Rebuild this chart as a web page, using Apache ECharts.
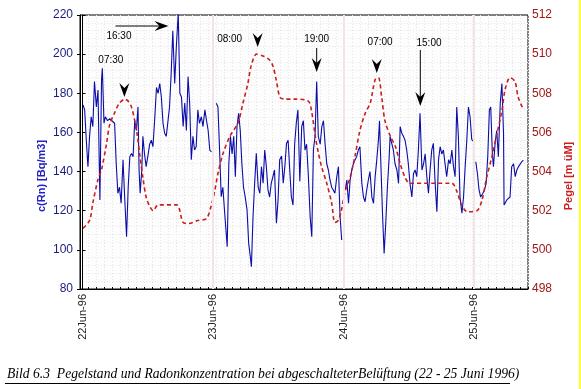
<!DOCTYPE html>
<html><head><meta charset="utf-8">
<script src="https://cdn.jsdelivr.net/npm/echarts@6/dist/echarts.min.js"></script>
<style>html,body{margin:0;padding:0;background:#fff}#c{width:581px;height:389px}</style>
</head><body><div id="c"></div>
<script>
// ---- data ----
const dayTicks = [0, 24, 48, 72];
const dayLabels = ['22Jun-96', '23Jun-96', '24Jun-96', '25Jun-96'];
const rnTicks = [80, 100, 120, 140, 160, 180, 200, 220];
const pegelTicks = [498, 500, 502, 504, 506, 508, 510, 512];

// Radon concentration, hours since 22 Jun 00:00 (null = gap at day change)
const rnHours = [
0.1,0.4,0.7,1.0,1.3,1.6,1.9,2.2,2.55,2.85,3.2,3.5,3.65,3.95,4.2,4.6,5.0,5.3,5.9,6.2,6.5,6.8,7.1,7.45,7.75,8.1,8.4,8.7,9.0,9.3,9.6,9.9,10.2,10.4,10.6,10.9,11.1,11.4,11.7,12.0,12.35,12.65,12.95,13.3,13.6,13.9,14.2,14.5,14.8,15.1,15.4,15.7,16.0,16.3,16.6,16.95,17.25,17.6,17.9,18.2,18.5,18.8,19.1,19.4,19.7,20.0,20.3,20.6,20.9,21.2,21.5,21.85,22.15,22.5,22.8,23.1,23.4,23.7,
24.0,
24.6,24.9,25.2,25.5,25.8,26.1,26.6,26.9,27.2,27.5,27.8,28.1,28.4,28.7,29.0,29.3,29.6,29.9,30.25,30.55,30.85,31.05,31.35,31.65,31.95,32.3,32.6,32.9,33.2,33.5,33.8,34.1,34.4,34.7,35.0,35.3,35.65,35.95,36.25,36.6,36.9,37.2,37.5,37.8,38.1,38.4,38.7,39.0,39.3,39.6,39.95,40.3,40.6,40.9,41.2,41.5,41.85,42.15,42.45,42.75,43.05,43.35,43.7,44.0,44.3,44.6,44.9,45.2,45.5,45.8,46.1,46.4,46.75,47.05,47.35,47.65,
48.0,
48.3,48.6,48.9,49.2,49.5,49.8,50.1,50.4,50.7,51.0,51.35,51.65,51.95,52.25,52.55,52.85,53.2,53.5,53.8,54.1,54.4,54.6,54.85,55.15,55.45,55.75,56.05,56.35,56.55,56.85,57.15,57.45,57.8,58.1,58.4,58.7,59.0,59.3,59.6,59.9,60.2,60.55,60.85,61.15,61.45,61.75,62.05,62.4,62.7,63.0,63.3,63.6,63.9,64.2,64.5,64.8,65.15,65.45,65.75,66.05,66.35,66.65,66.95,67.3,67.6,67.9,68.2,68.5,68.8,69.1,69.4,69.75,70.05,70.35,70.65,70.95,71.25,71.55,71.75,
72.0,
72.3,72.6,72.9,73.2,73.6,73.9,74.2,74.5,74.8,75.05,75.35,75.55,75.85,76.15,76.45,76.8,77.1,77.4,77.5,78.0,78.6,78.9,79.25,79.55,79.85,80.15,80.45,80.75,81.05
];
const rnValues = [
174,171.5,156,142.5,158,168,163,186,173,181.7,125.5,186.8,192.8,164.7,168,166,167,168,164.7,144,128.9,132,123.8,146,127,106.7,132,147.6,149.3,147.6,166,161,173,140.8,128.9,140.8,158,149,142.5,147.6,154,156,152.7,168,183,180,185,178,164.7,159.6,158,158,173,190,212,185,203.8,221,180,178,163,175,161,188.5,175,146,158,151,152.7,171.5,164.7,168,163,171.5,166,161,151,150,
null,
174.9,173,151,127.2,132,120.4,101.6,144,158,149,158,137.4,163,169.8,161,144,132,127.2,120.4,103.3,96.5,91.4,117,134,149.3,132,128.9,142.5,134,151,142.5,130.6,127,134,134,140.8,113.6,125.5,146,148,134,142.5,154.4,156,140.8,127,122.9,154,164.7,171.5,135,163,166,151,154,139,117,106.7,151,158,186,158,154,163,166,154,144,140.8,135.7,132,130.6,128.9,137.4,142.5,117,105,
null,
130.6,135.7,123.8,135.7,140.8,144,146,147.6,151,152.7,134,127,124.6,130.6,135.7,140,127,123.8,137.4,146,156,166,144,118.7,98.2,113.6,132,146,158,154.4,151,144,140.8,134,163,159.6,158,156,151,144,134,127,139,140.8,137.4,151,169.8,140.8,144,149,137.4,128.9,140.8,151,154.4,135.7,119.5,146,152.7,149,151,144,137.4,146,144,151,142.5,137.4,173,158,127,118.7,127,142.5,156,173,168,156.5,155.6,
null,
145,139,130.6,127,128.9,130.6,134,147.6,171.5,173,149,142.5,154.4,161,147.6,174.9,185,159.6,122.9,125.5,127,142.5,144,137.4,140.8,142.5,142.5,145,145.8
];

// Water level (Pegel), hours since 22 Jun 00:00
const pegelHours = [
0.1,1.3,1.9,2.85,3.5,4.4,5.0,5.9,6.8,7.8,8.4,9.0,9.6,10.1,10.5,11.1,11.7,12.4,13.0,13.9,17.3,18.5,19.5,21.2,22.8,23.7,24.3,24.9,25.8,27.1,28.6,29.5,30.4,31.0,32.0,33.2,34.4,35.0,35.6,36.3,37.2,39.0,41.5,42.1,42.8,43.4,44.0,44.9,45.8,46.4,47.0,47.5,48.3,49.2,50.1,51.0,52.0,52.9,53.8,54.4,55.0,55.6,56.6,57.5,58.4,59.3,60.2,67.9,68.8,69.7,70.7,72.5,73.4,74.3,75.3,76.2,77.1,77.7,78.6,79.5,80.1,81.0
];
const pegelValues = [
501.1,501.5,502.4,503.6,504.1,505.4,506.4,507.0,507.5,507.7,507.6,507.3,506.6,505.8,504.9,503.7,502.7,502.2,502.0,502.3,502.3,501.4,501.35,501.5,501.6,502.3,503.0,503.9,504.9,505.8,506.5,507.5,508.5,509.4,510.0,509.9,509.7,509.4,508.7,507.8,507.7,507.7,507.6,507.1,505.8,504.9,504.2,503.4,502.4,501.4,501.5,501.9,503.0,503.7,504.8,506.1,507.0,507.5,508.7,508.8,507.8,506.6,505.8,505.3,504.4,503.7,503.4,503.4,503.0,502.3,501.95,502.0,502.5,503.7,504.8,505.95,507.1,508.2,508.8,508.6,507.8,507.2
];

// annotations (label, hour the arrow points at)
const annLabels = ['07:30', '16:30', '08:00', '19:00', '07:00', '15:00'];
const annHours = [7.7, 15.8, 32.2, 43.05, 54.1, 62.1];

const captionText = 'Bild 6.3  Pegelstand und Radonkonzentration bei abgeschalteterBelüftung (22 - 25 Juni 1996)';

// ---- chart ----
const chart = echarts.init(document.getElementById('c'), null, {renderer: 'canvas'});
const FONT = '"Liberation Sans", Arial, sans-serif';

const option = {
  animation: false,
  backgroundColor: '#ffffff',
  grid: {left: 80, right: 53, top: 15, bottom: 100, show: true, borderColor: '#000', borderWidth: 1, backgroundColor: '#fdfdfd'},
  xAxis: [{
    type: 'value', min: -0.46, max: 81.9, position: 'bottom',
    axisLine: {show: true, lineStyle: {color: '#000', width: 1}},
    axisTick: {show: true, inside: true, length: 4, customValues: dayTicks, lineStyle: {color: '#000'}},
    axisLabel: {show: true, customValues: dayTicks, rotate: 90, margin: 5, fontSize: 11, fontFamily: FONT, color: '#222',
      formatter: v => dayLabels[dayTicks.indexOf(Math.round(v))] || ''},
    splitLine: {show: false}
  }, {
    type: 'value', min: 0, max: 448, interval: 8, position: 'bottom',
    axisLine: {show: false}, axisLabel: {show: false},
    axisTick: {show: true, inside: true, length: 2, lineStyle: {color: '#000'}},
    splitLine: {show: true, lineStyle: {color: '#e6e6e6', type: [1, 2], width: 1}}
  }],
  yAxis: [{
    type: 'value', min: 80, max: 220, interval: 20, position: 'left',
    axisLine: {show: true, lineStyle: {color: '#000'}},
    axisTick: {show: true, inside: true, length: 3, lineStyle: {color: '#000'}},
    axisLabel: {fontSize: 12, fontFamily: FONT, color: '#1c1c80', margin: 7},
    splitLine: {show: false},
    minorTick: {show: false, splitNumber: 5},
    minorSplitLine: {show: true, lineStyle: {color: '#e6e6e6', type: [1, 2], width: 1}}
  }, {
    type: 'value', min: 498, max: 512, interval: 2, position: 'right',
    axisLine: {show: true, lineStyle: {color: '#000'}},
    axisTick: {show: true, inside: true, length: 3, lineStyle: {color: '#000'}},
    axisLabel: {fontSize: 12, fontFamily: FONT, color: '#a01818', margin: 4},
    splitLine: {show: false}
  }],
  series: [{
    type: 'line', name: 'c(Rn)', xAxisIndex: 0, yAxisIndex: 0,
    data: rnHours.map((h, i) => [h, rnValues[i] == null ? '-' : rnValues[i]]),
    showSymbol: false, connectNulls: false, z: 3,
    lineStyle: {color: '#0c0ca8', width: 1.1},
    markLine: {
      silent: true, symbol: ['none', 'none'], label: {show: false},
      lineStyle: {color: '#f2e4e4', width: 2, type: 'solid'},
      data: dayTicks.slice(1).map(d => ({xAxis: d}))
    }
  }, {
    type: 'line', name: 'Pegel', xAxisIndex: 0, yAxisIndex: 1,
    data: pegelHours.map((h, i) => [h, pegelValues[i]]),
    showSymbol: false, smooth: 0.3, z: 4,
    lineStyle: {color: '#c81e1e', width: 1.6, type: [4, 3]}
  }]
};
chart.setOption(option);

// annotation layout (pixel offsets relative to arrow position)
const annStyle = [
  {dir: 'down', tdx: -13.5, ty: 60, tip: 97},
  {dir: 'right', tdx: -49.5, ty: 36, ly: 26, start: -53},
  {dir: 'down', tdx: -28, ty: 39.5, tip: 47},
  {dir: 'down', tdx: 0, ty: 39.5, stem: 48, tip: 72},
  {dir: 'down', tdx: 3.3, ty: 42, tip: 73},
  {dir: 'down', tdx: 8.7, ty: 43, stem: 50, tip: 106}
];
const g = [];
annLabels.forEach((lab, i) => {
  const s = annStyle[i];
  const x = chart.convertToPixel({xAxisIndex: 0}, annHours[i]);
  g.push({type: 'text', x: x + s.tdx, y: s.ty, z: 100,
    style: {text: lab, fontSize: 10, fontFamily: FONT, fill: '#000', align: 'center', verticalAlign: 'middle'}});
  if (s.dir === 'down') {
    if (s.stem != null) g.push({type: 'line', z: 100, shape: {x1: x, y1: s.stem, x2: x, y2: s.tip - 8}, style: {stroke: '#000', lineWidth: 1}});
    g.push({type: 'polygon', z: 100, shape: {points: [[x, s.tip], [x - 5, s.tip - 14], [x, s.tip - 9], [x + 5, s.tip - 14]]}, style: {fill: '#000'}});
  } else {
    g.push({type: 'line', z: 100, shape: {x1: x + s.start, y1: s.ly, x2: x - 8, y2: s.ly}, style: {stroke: '#000', lineWidth: 1}});
    g.push({type: 'polygon', z: 100, shape: {points: [[x, s.ly], [x - 14, s.ly - 5], [x - 9, s.ly], [x - 14, s.ly + 5]]}, style: {fill: '#000'}});
  }
});
// axis titles
g.push({type: 'text', x: 42, y: 176, rotation: Math.PI / 2, z: 100,
  style: {text: 'c(Rn) [Bq/m3]', fontSize: 11, fontWeight: 'bold', fontFamily: FONT, fill: '#2222c0', align: 'center', verticalAlign: 'middle'}});
g.push({type: 'text', x: 569, y: 176, rotation: Math.PI / 2, z: 100,
  style: {text: 'Pegel [m üM]', fontSize: 11, fontWeight: 'bold', fontFamily: FONT, fill: '#cc2020', align: 'center', verticalAlign: 'middle'}});
// caption
g.push({type: 'text', x: 7, y: 374, z: 100,
  style: {text: captionText, fontSize: 13.6, fontStyle: 'italic', fontFamily: '"Liberation Serif", "Times New Roman", serif', fill: '#000', align: 'left', verticalAlign: 'middle'}});
g.push({type: 'line', z: 100, shape: {x1: 5, y1: 383.5, x2: 510, y2: 383.5}, style: {stroke: '#000', lineWidth: 1}});
// right-edge yellow strip
g.push({type: 'rect', z: 100, shape: {x: 579, y: 0, width: 2, height: 389}, style: {fill: '#ffff33'}});
chart.setOption({graphic: g});
</script>
</body></html>
